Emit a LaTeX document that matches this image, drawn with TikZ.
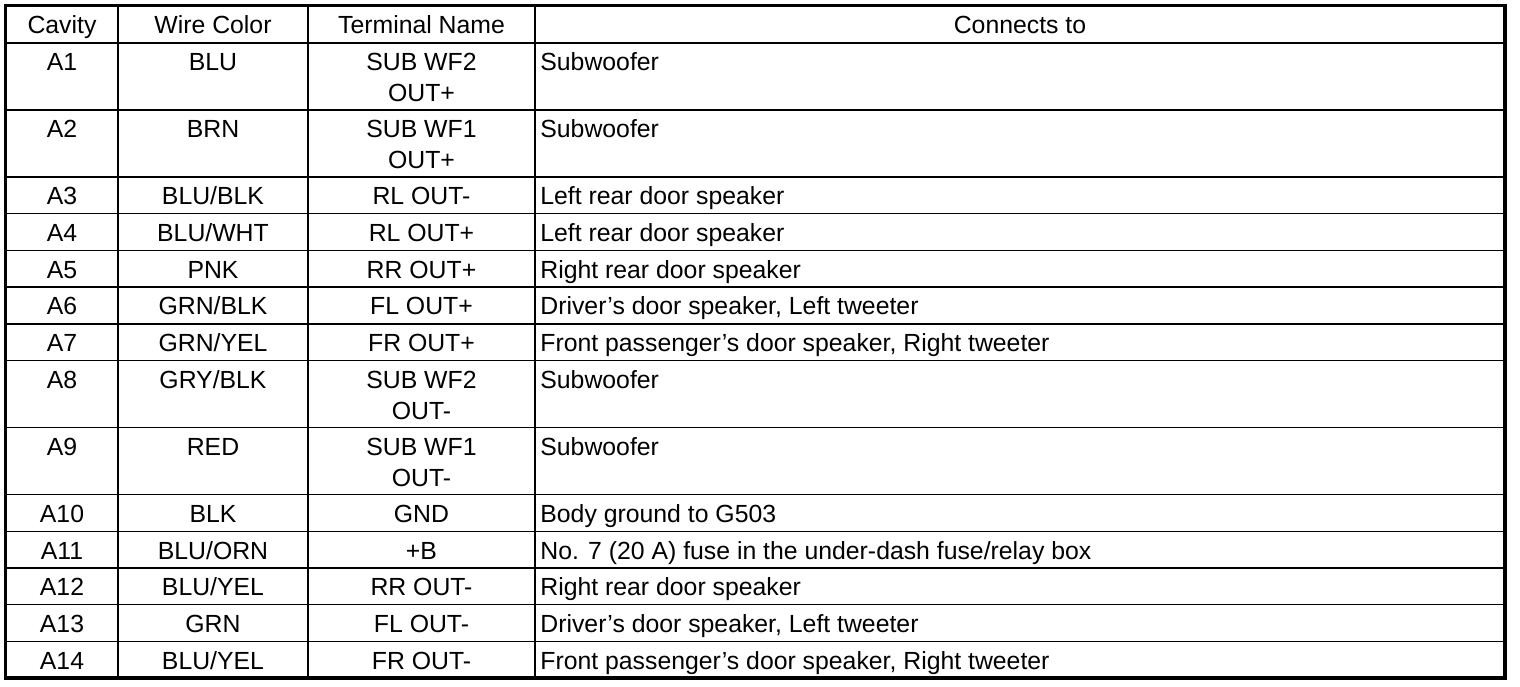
\documentclass[tikz,border=0pt]{standalone}
\usepackage{fontspec}
\setmainfont{Liberation Sans}
\usepackage{tikz}

\begin{document}
\begin{tikzpicture}[x=0.5pt, y=-0.5pt,
                cell/.style = {anchor=base, inner sep=0pt, font=\fontsize{12.4}{14}\selectfont},
                conn/.style = {cell, anchor=base west},
                rowline/.style = {line width=0.7pt},
                colline/.style = {line width=0.9pt},
                headline/.style = {line width=1.2pt},
                frame/.style = {line width=1.6pt}]
                \useasboundingbox (0,0) rectangle (1520,686);
                
                % header
                \node (hCav) [cell] at (62,33) {Cavity};
                \node (hWire) [cell] at (213,33) {Wire Color};
                \node (hTerm) [cell] at (421.5,33) {Terminal Name};
                \node (hConn) [cell] at (1020,33) {Connects to};
                
                % rows
                \foreach \r/\top/\cav/\wire/\term/\conn in {
                        1/43/A1/BLU/SUB WF2/Subwoofer,
                        2/110/A2/BRN/SUB WF1/Subwoofer,
                        3/177/A3/BLU\slash BLK/RL OUT-/Left rear door speaker,
                        4/213.7/A4/BLU\slash WHT/RL OUT+/Left rear door speaker,
                        5/250.4/A5/PNK/RR OUT+/Right rear door speaker,
                        6/287.1/A6/GRN\slash BLK/FL OUT+/{Driver's door speaker, Left tweeter},
                        7/323.8/A7/GRN\slash YEL/FR OUT+/{Front passenger's door speaker, Right tweeter},
                        8/360.5/A8/GRY\slash BLK/SUB WF2/Subwoofer,
                        9/427.5/A9/RED/SUB WF1/Subwoofer,
                        10/494.5/A10/BLK/GND/Body ground to G503,
                        11/531.2/A11/BLU\slash ORN/+B/{No. 7 (20 A) fuse in the under-dash fuse/relay box},
                        12/567.9/A12/BLU\slash YEL/RR OUT-/Right rear door speaker,
                        13/604.6/A13/GRN/FL OUT-/{Driver's door speaker, Left tweeter},
                        14/641.3/A14/BLU\slash YEL/FR OUT-/{Front passenger's door speaker, Right tweeter}}
                {
                        \node (c\r) [cell] at (62,\top+27.8) {\cav};
                        \node (w\r) [cell] at (213,\top+27.8) {\wire};
                        \node (t\r) [cell] at (421.5,\top+27.8) {\term};
                        \node (n\r) [conn] at (540,\top+27.8) {\conn};
                        \draw[rowline] (5.5,\top) -- (1505,\top);
                }
                
                % second line of the terminal names
                \foreach \r/\tail in {1/OUT+, 2/OUT+, 8/OUT-, 9/OUT-}
                        \node (tb\r) [cell] at ([yshift=-15.5pt]t\r.base) {\tail};
                
                % grid
                \draw[headline] (5.5,43) -- (1505,43);
                \foreach \x in {118, 308, 535}
                        \draw[colline] (\x,5.5) -- (\x,678);
                \draw[frame] (5.5,5.5) rectangle (1505,678);
            \end{tikzpicture}
\end{document}
